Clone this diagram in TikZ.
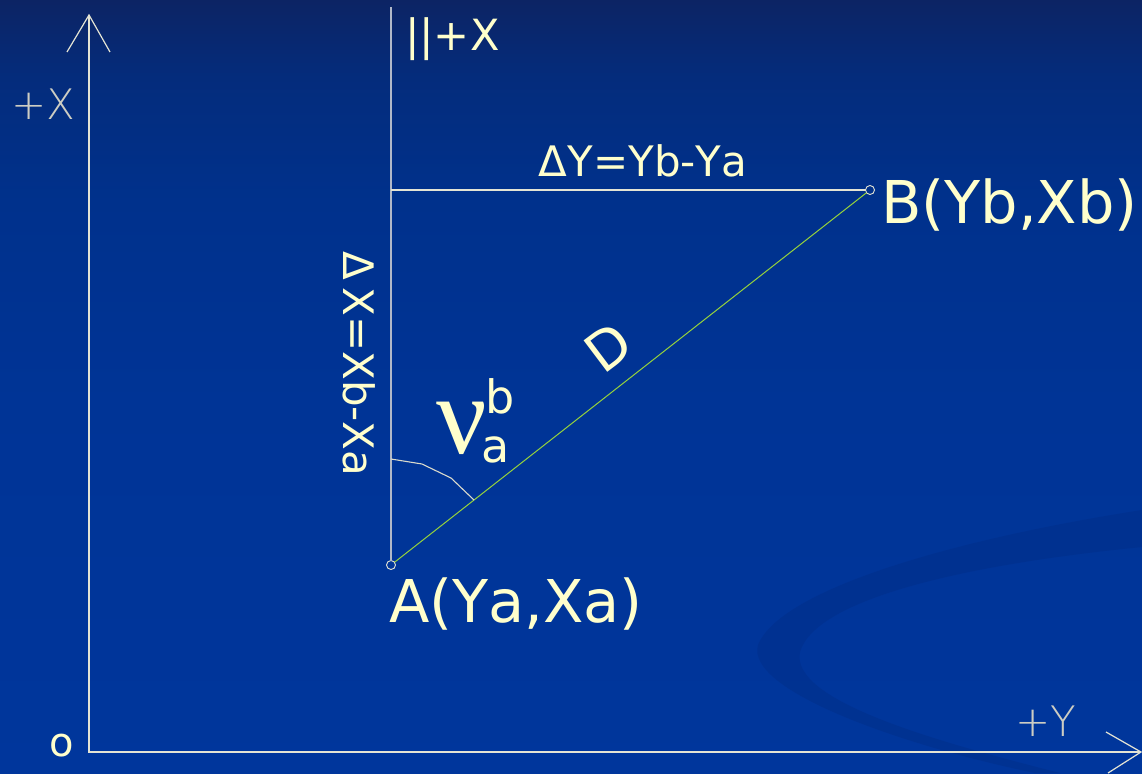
\documentclass[tikz,border=0pt]{standalone}
\usepackage{fontspec}
\setmainfont{DejaVu Sans}[Kerning=Off]
\newfontfamily\nufont{Liberation Serif}
\newfontfamily\thinfont{DejaVu Sans ExtraLight}
\definecolor{bgA}{RGB}{12,36,100}
\definecolor{bgA2}{RGB}{4,44,124}
\definecolor{bgB}{RGB}{0,49,140}
\definecolor{bgB2}{RGB}{0,52,150}
\definecolor{bgC}{RGB}{0,54,156}
\definecolor{txt}{RGB}{255,255,204}
\definecolor{axiscol}{RGB}{228,228,212}
\definecolor{thincol}{RGB}{205,205,195}
\definecolor{gline}{RGB}{176,184,200}
\definecolor{segcol}{RGB}{150,210,60}
\definecolor{swcol}{RGB}{0,44,132}
\pgfdeclareverticalshading{bgshade}{100bp}{color(0bp)=(bgC); color(25bp)=(bgC); color(49bp)=(bgB2); color(62bp)=(bgB); color(70bp)=(bgA2); color(75bp)=(bgA); color(100bp)=(bgA)}
\begin{document}
\begin{tikzpicture}[x=1pt,y=-1pt,
  lbl/.style={text=txt, inner sep=0pt, outer sep=0pt},
  thinlbl/.style={text=thincol, inner sep=0pt, outer sep=0pt, font=\thinfont\fontsize{42}{42}\selectfont},
  axisline/.style={draw=axiscol, line width=1.4pt},
  guide/.style={draw=gline, line width=1.4pt},
  pt/.style={circle, draw=axiscol, line width=0.9pt, minimum size=9pt, inner sep=0pt, outer sep=0pt},
  seg/.style={draw=segcol, line width=1pt},
  anglemark/.style={draw=axiscol!90!gray, line width=1.1pt}]
\useasboundingbox (0,0) rectangle (1142,773);
\shade[shading=bgshade] (0,0) rectangle (1142,773);
% background swoosh
\fill[swcol, opacity=0.4] (1142,510) .. controls (950,540) and (780,590) .. (758,645)
  .. controls (745,690) and (900,745) .. (1035,773) -- (1060,773)
  .. controls (930,740) and (790,700) .. (800,652)
  .. controls (815,600) and (960,565) .. (1142,547) -- cycle;
% axes
\coordinate (O) at (89,752);
\coordinate (Xtip) at (89,15);
\coordinate (Ytip) at (1141,752);
\coordinate (Xw1) at (67,52);
\coordinate (Xw2) at (110,52);
\coordinate (Yw1) at (1106,732);
\coordinate (Yw2) at (1108,773);
\draw[axisline] (Xtip) -- (O) -- (Ytip);
\draw[axisline, line width=1.2pt] (Xw1) -- (Xtip) -- (Xw2);
\draw[axisline, line width=1.2pt] (Yw1) -- (Ytip) -- (Yw2);
\node[thinlbl, anchor=base west] (plusX) at (11,120) {+X};
\node[thinlbl, anchor=base west] (plusY) at (1015,736) {+Y};
\node[lbl, anchor=base, font=\fontsize{40}{40}\selectfont] (orig) at (62,756) {o};
% points
\node[pt] (A) at (391,565) {};
\node[pt] (B) at (870,190) {};
\coordinate (topV) at (391,7);
\coordinate (corner) at (391,190);
\draw[guide] (A.north) -- (topV);
\draw[axisline, line width=1.2pt] (B.west) -- (corner);
\draw[seg] (A) -- (B);
% angle mark
\coordinate (m1) at (391,459);
\coordinate (m2) at (422,464);
\coordinate (m3) at (451,478);
\coordinate (m4) at (474,500);
\draw[anglemark] (m1) -- (m2) -- (m3) -- (m4);
% labels
\node[lbl, anchor=base west, font=\fontsize{43}{43}\selectfont] (parX) at (405,51) {||+X};
\node[lbl, anchor=base, font=\fontsize{42}{42}\selectfont] (dY) at (643,176) {ΔY=Yb-Ya};
\node[lbl, rotate=-90, font=\fontsize{42}{42}\selectfont] (dX) at (359,364) {Δ\,X=Xb-Xa};
\node[lbl, anchor=base west, font=\fontsize{59}{59}\selectfont] (Blbl) at (881,223) {B(Yb,Xb)};
\node[lbl, anchor=base west, font=\fontsize{59}{59}\selectfont] (Albl) at (389,622) {A(Ya,Xa)};
\node[lbl, rotate=37, font=\fontsize{54}{54}\selectfont] (Dlbl) at (608,347) {D};
\node[lbl, anchor=base west, font=\fontsize{46}{46}\selectfont] (angle) at (436,453)
  {{\nufont\fontsize{112}{112}\selectfont ν}\kern-5pt\rlap{\kern4pt\raisebox{40pt}{b}}\raisebox{-9pt}{a}};
\end{tikzpicture}
\end{document}
